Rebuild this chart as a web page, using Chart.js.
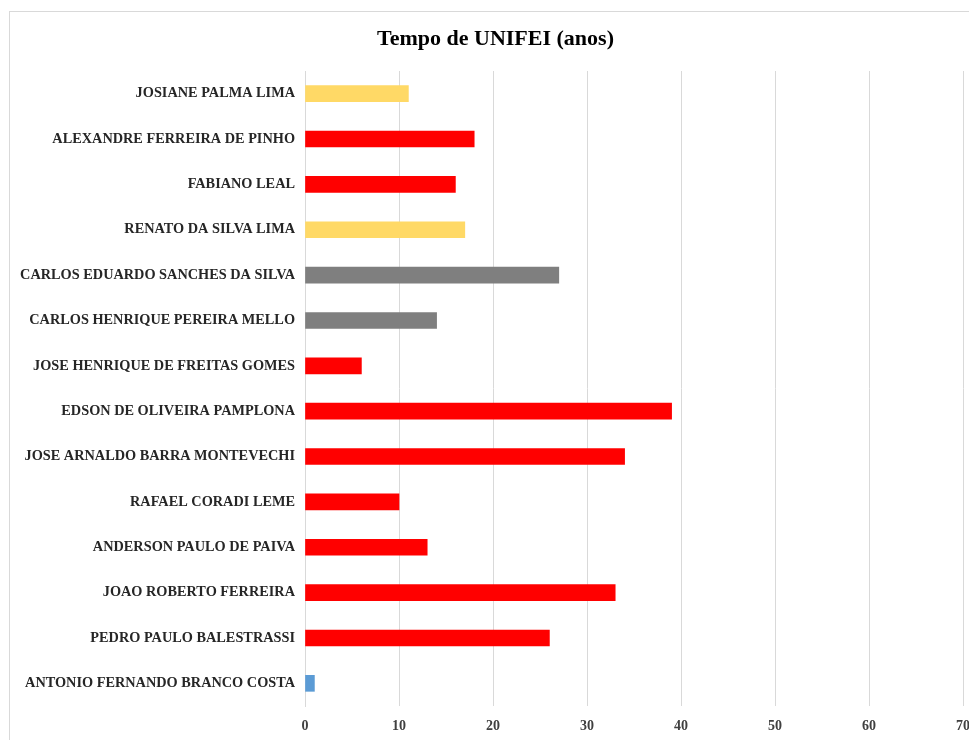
<!DOCTYPE html>
<html>
<head>
<meta charset="utf-8">
<script src="https://cdn.jsdelivr.net/npm/chart.js@4/dist/chart.umd.min.js"></script>
<style>
    html, body { margin: 0; padding: 0; background: #fff; overflow: hidden; width: 969px; height: 740px; }
    #frame { position: absolute; left: 9px; top: 11px; width: 988px; height: 740px; border: 1px solid #d9d9d9; }
    #chart { display: block; }
</style>
</head>
<body>
<div id="frame"><canvas id="chart" width="988" height="728"></canvas></div>
<script>
const titulo = "Tempo de UNIFEI (anos)";
const nomes = [
    "JOSIANE PALMA LIMA",
    "ALEXANDRE FERREIRA DE PINHO",
    "FABIANO LEAL",
    "RENATO DA SILVA LIMA",
    "CARLOS EDUARDO SANCHES DA SILVA",
    "CARLOS HENRIQUE PEREIRA MELLO",
    "JOSE HENRIQUE DE FREITAS GOMES",
    "EDSON DE OLIVEIRA PAMPLONA",
    "JOSE ARNALDO BARRA MONTEVECHI",
    "RAFAEL CORADI LEME",
    "ANDERSON PAULO DE PAIVA",
    "JOAO ROBERTO FERREIRA",
    "PEDRO PAULO BALESTRASSI",
    "ANTONIO FERNANDO BRANCO COSTA"
];
const anos = [11, 18, 16, 17, 27, 14, 6, 39, 34, 10, 13, 33, 26, 1];
const grupos = ["amarelo", "vermelho", "vermelho", "amarelo", "cinza", "cinza", "vermelho",
    "vermelho", "vermelho", "vermelho", "vermelho", "vermelho", "vermelho", "azul"];
const xTicks = [0, 10, 20, 30, 40, 50, 60, 70];

const cores = { amarelo: "#ffd966", vermelho: "#ff0000", cinza: "#7f7f7f", azul: "#5b9bd5" };
const serif = "'Liberation Serif', 'Times New Roman', serif";

// title drawn by hand so it sits centred on the whole frame, not the padded box
const tituloPlugin = {
    id: "tituloPlugin",
    afterDraw(chart) {
        const c = chart.ctx;
        c.save();
        c.font = "bold 22px " + serif;
        c.fillStyle = "#000";
        c.textAlign = "center";
        c.textBaseline = "middle";
        c.fillText(titulo, 485.5, 27);
        c.restore();
    }
};

const ctx = document.getElementById("chart").getContext("2d");
new Chart(ctx, {
    type: "bar",
    data: {
        labels: nomes,
        datasets: [{
            data: anos,
            backgroundColor: grupos.map(g => cores[g]),
            barThickness: 16,
            borderWidth: 0
        }]
    },
    options: {
        indexAxis: "y",
        responsive: false,
        animation: false,
        layout: { padding: { left: 0, right: 35, top: 59, bottom: 4 } },
        plugins: {
            legend: { display: false },
            tooltip: { enabled: false },
            title: { display: false }
        },
        scales: {
            x: {
                min: 0,
                max: 70,
                afterBuildTicks: function (scale) {
                    scale.ticks = xTicks.map(v => ({ value: v }));
                },
                afterFit: function (scale) { scale.height = 30; },
                grid: { color: "#d9d9d9", lineWidth: 1, drawTicks: false },
                border: { display: false },
                ticks: {
                    padding: 12,
                    color: "#404040",
                    font: { family: serif, size: 14, weight: "bold" }
                }
            },
            y: {
                afterFit: function (scale) { scale.width = 295; },
                grid: { display: false },
                border: { display: true, color: "#d9d9d9", width: 1 },
                ticks: {
                    padding: 2,
                    color: "#262626",
                    autoSkip: false,
                    font: { family: serif, size: 14.3, weight: "bold" }
                }
            }
        }
    },
    plugins: [tituloPlugin]
});
</script>
</body>
</html>
